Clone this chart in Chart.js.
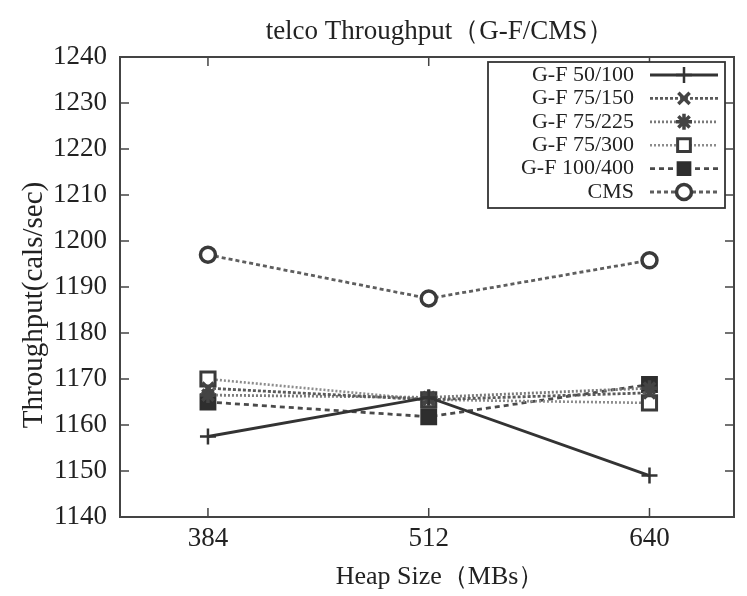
<!DOCTYPE html>
<html>
<head>
<meta charset="utf-8">
<script src="https://cdn.jsdelivr.net/npm/chart.js@4.4.1/dist/chart.umd.min.js"></script>
<style>
html,body{margin:0;padding:0;background:#fff;}
canvas{display:block;}
</style>
</head>
<body>
<canvas id="c" width="747" height="596"></canvas>
<script>
// ---- data ----
const chartTitle = "telco Throughput（G-F/CMS）";
const xTitle = "Heap Size（MBs）";
const yTitle = "Throughput(cals/sec)";
const heapSizes = [384, 512, 640];
const seriesNames = ["G-F 50/100", "G-F 75/150", "G-F 75/225", "G-F 75/300", "G-F 100/400", "CMS"];
const gf50_100  = [1157.5, 1166.0, 1149.0];
const gf75_150  = [1168.0, 1165.5, 1167.0];
const gf75_225  = [1166.5, 1166.0, 1168.0];
const gf75_300  = [1170.0, 1165.5, 1164.8];
const gf100_400 = [1165.0, 1161.8, 1168.8];
const cms       = [1197.0, 1187.5, 1195.8];
const yMin = 1140, yMax = 1240, yStep = 10;

const seriesValues = [gf50_100, gf75_150, gf75_225, gf75_300, gf100_400, cms];

// ---- styles ----
const styles = [
  {color:'#333333', width:2.8, dash:[],    pointStyle:'cross',    radius:8,   fill:'#333',    pbw:2.5},
  {color:'#5a5a5a', width:2.8, dash:[3,2], pointStyle:'crossRot', radius:8,   fill:'#444',    pbw:3.5, pcolor:'#444'},
  {color:'#7a7a7a', width:2.8, dash:[2,2], pointStyle:'star',     radius:8,   fill:'#444',    pbw:3.5, pcolor:'#444'},
  {color:'#8c8c8c', width:2.6, dash:[2,2], pointStyle:'rect',     radius:10,  fill:'#ffffff', pbw:3,   pcolor:'#3a3a3a'},
  {color:'#4a4a4a', width:2.8, dash:[5,4], pointStyle:'rect',     radius:10.5,fill:'#2e2e2e', pbw:2,   pcolor:'#2e2e2e'},
  {color:'#5e5e5e', width:2.8, dash:[4,3], pointStyle:'circle',   radius:7.5, fill:'#ffffff', pbw:3.5, pcolor:'#3a3a3a'}
];

const datasets = seriesNames.map((name, i) => ({
  label: name,
  data: heapSizes.map((h, j) => ({x: h, y: seriesValues[i][j]})),
  borderColor: styles[i].color,
  borderWidth: styles[i].width,
  borderDash: styles[i].dash,
  pointStyle: styles[i].pointStyle,
  pointRadius: styles[i].radius,
  pointBackgroundColor: styles[i].fill,
  pointBorderColor: styles[i].pcolor || styles[i].color,
  pointBorderWidth: styles[i].pbw,
  tension: 0,
  fill: false
}));

const SERIF = '"Liberation Serif", "DejaVu Serif", serif';

const decorPlugin = {
  id: 'decor',
  beforeDatasetsDraw(chart) {
    const {ctx, chartArea: a, scales} = chart;
    ctx.save();
    ctx.strokeStyle = '#444';
    ctx.lineWidth = 2;
    ctx.setLineDash([]);
    ctx.strokeRect(a.left, a.top, a.right - a.left, a.bottom - a.top);
    ctx.lineWidth = 1.5;
    const tl = 9;
    scales.y.ticks.forEach(t => {
      if (t.value <= yMin || t.value >= yMax) return;
      const y = scales.y.getPixelForValue(t.value);
      ctx.beginPath();
      ctx.moveTo(a.left, y); ctx.lineTo(a.left + tl, y);
      ctx.moveTo(a.right, y); ctx.lineTo(a.right - tl, y);
      ctx.stroke();
    });
    scales.x.ticks.forEach(t => {
      const x = scales.x.getPixelForValue(t.value);
      ctx.beginPath();
      ctx.moveTo(x, a.bottom); ctx.lineTo(x, a.bottom - tl);
      ctx.moveTo(x, a.top); ctx.lineTo(x, a.top + tl);
      ctx.stroke();
    });
    ctx.restore();
  },
  afterDraw(chart) {
    const {ctx} = chart;
    ctx.save();
    ctx.fillStyle = '#222';
    ctx.font = '27px ' + SERIF;
    ctx.textAlign = 'center';
    ctx.textBaseline = 'middle';
    ctx.fillText(chartTitle, 440, 32);
    ctx.font = '26px ' + SERIF;
    ctx.fillText(xTitle, 440, 577);
    ctx.save();
    ctx.translate(34, 305);
    ctx.rotate(-Math.PI / 2);
    ctx.font = '29px ' + SERIF;
    ctx.fillText(yTitle, 0, 0);
    ctx.restore();

    // legend
    const bx = 488, by = 62, bw = 237, bh = 146;
    ctx.fillStyle = '#fff';
    ctx.fillRect(bx, by, bw, bh);
    ctx.strokeStyle = '#333';
    ctx.lineWidth = 1.8;
    ctx.setLineDash([]);
    ctx.strokeRect(bx, by, bw, bh);
    ctx.font = '22px ' + SERIF;
    ctx.textAlign = 'right';
    ctx.textBaseline = 'middle';
    chart.data.datasets.forEach((ds, i) => {
      const y = 75 + i * 23.4;
      ctx.fillStyle = '#222';
      ctx.fillText(ds.label, 634, y);
      ctx.save();
      ctx.strokeStyle = ds.borderColor;
      ctx.lineWidth = ds.borderWidth;
      ctx.setLineDash(ds.borderDash);
      ctx.beginPath();
      ctx.moveTo(650, y); ctx.lineTo(718, y);
      ctx.stroke();
      ctx.setLineDash([]);
      ctx.fillStyle = ds.pointBackgroundColor;
      ctx.strokeStyle = ds.pointBorderColor;
      ctx.lineWidth = ds.pointBorderWidth;
      Chart.helpers.drawPoint(ctx, {
        pointStyle: ds.pointStyle,
        radius: Math.min(ds.pointRadius, 9),
        rotation: 0,
        borderWidth: ds.pointBorderWidth
      }, 684, y);
      ctx.restore();
    });
    ctx.restore();
  }
};

new Chart(document.getElementById('c'), {
  type: 'line',
  data: {datasets},
  options: {
    responsive: false,
    animation: false,
    layout: {padding: {top: 57, right: 13, left: 0, bottom: 0}},
    plugins: {legend: {display: false}, title: {display: false}, tooltip: {enabled: false}},
    scales: {
      x: {
        type: 'linear',
        min: 333, max: 689,
        afterBuildTicks: s => { s.ticks = heapSizes.map(v => ({value: v})); },
        afterFit: s => { s.height = 79; },
        grid: {display: false, drawTicks: false},
        border: {display: false},
        ticks: {color: '#222', font: {family: SERIF, size: 27}, padding: 6, callback: v => String(v)}
      },
      y: {
        min: yMin, max: yMax,
        afterFit: s => { s.width = 120; },
        grid: {display: false, drawTicks: false},
        border: {display: false},
        ticks: {stepSize: yStep, color: '#222', font: {family: SERIF, size: 27}, padding: 13, callback: v => String(v)}
      }
    }
  },
  plugins: [decorPlugin]
});
</script>
</body>
</html>
